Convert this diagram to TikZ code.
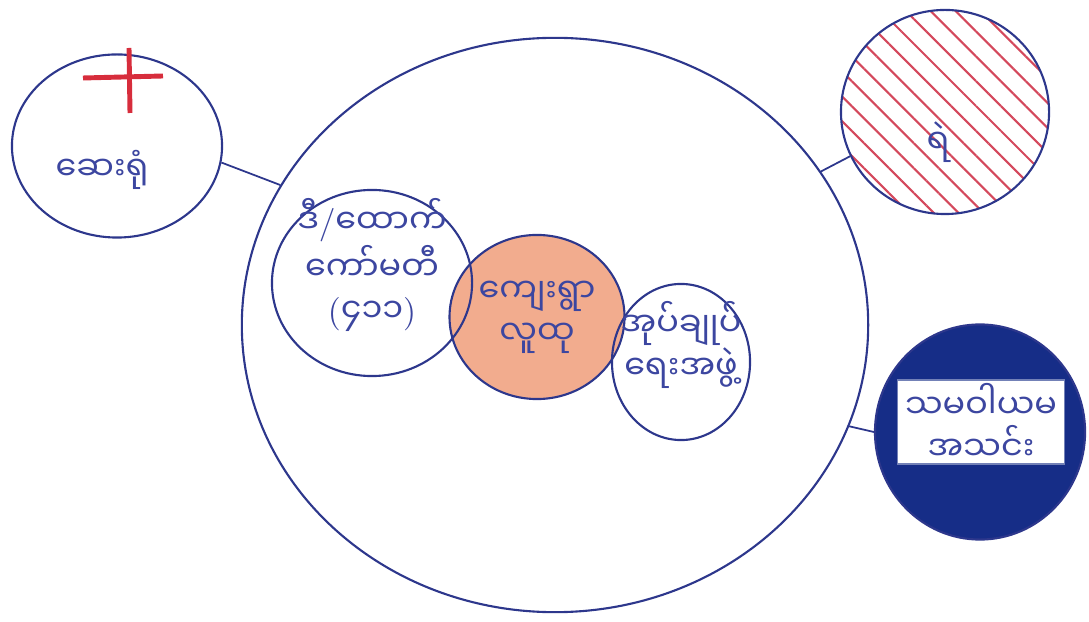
\documentclass[tikz,border=0pt]{standalone}
\usepackage{fontspec}
\usepackage{xcolor}
\usepackage{tikz}
\usetikzlibrary{shapes.geometric,positioning,patterns.meta}
\newfontfamily\mmfont[Script=Myanmar]{Noto Sans Myanmar UI}
\definecolor{penblue}   {RGB}{45,55,140}
\definecolor{inkblue}   {RGB}{60,70,160}
\definecolor{villorange}{RGB}{242,172,142}
\definecolor{crossred}  {RGB}{215,45,60}
\definecolor{hatchred}  {RGB}{212,72,92}
\definecolor{coopblue}  {RGB}{22,45,135}
\newcommand{\lm}[1]{{\rmfamily #1}}
\tikzset{
  ring/.style n args={2}{draw=penblue, line width=0.6pt, ellipse,
                  minimum width=#1, minimum height=#2, inner sep=0pt},
  mmtext/.style ={font=\mmfont\fontsize{9.5}{12}\selectfont, text=inkblue,
                  align=center, inner sep=1pt},
  link/.style   ={draw=penblue, line width=0.5pt},
  cross/.style  ={draw=crossred, line width=1.4pt},
}
\begin{document}
\begin{tikzpicture}[x=0.01cm,y=-0.01cm]
  \useasboundingbox (0,0) rectangle (1089,622);
  %% community circles
  \node[ring={6.26cm}{5.74cm}] (big) at (555,325) {};
  \node[ring={1.5cm}{1.64cm}, fill=villorange, mmtext] (village) at (537,317)
       {ကျေးရွာ\\လူထု};
  \node[ring={2.0cm}{1.86cm}] (comm) at (372,283) {};
  \node[mmtext] (commtext) at (372,265) {ဒီ\lm{/}ထောက်\\ကော်မတီ\\\lm{(}၄၁၁\lm{)}};
  \node[ring={1.38cm}{1.56cm}] (admin) at (681,362) {};
  \node[mmtext] (admintext) at (681,345) {အုပ်ချုပ်\\ရေးအဖွဲ့};
  %% outside services
  \node[ring={2.1cm}{1.83cm}] (hospital) at (117,146) {};
  \draw[cross] (83,78) -- (163,76);
  \draw[cross] (129,48) -- (130,113);
  \node[mmtext] (hosptext) at (102,170) {ဆေးရုံ};
  \node[ring={2.08cm}{2.04cm}, pattern={Lines[angle=-45,distance=5pt,line width=0.6pt]},
        pattern color=hatchred] (police) at (945,112) {};
  \node[mmtext] (policetext) at (938,142) {ရဲ};
  \node[ring={2.1cm}{2.15cm}, fill=coopblue] (coop) at (980,432) {};
  \node[mmtext, fill=white, draw=coopblue!60, minimum width=1.67cm,
        minimum height=0.75cm] (cooptext) at (981,422) {သမဝါယမ\\အသင်း};
  %% links
  \draw[link] (hospital.-9) -- (big.153);
  \draw[link] (big.30) -- (police.205);
  \draw[link] (big.-19) -- (coop.180);
\end{tikzpicture}
\end{document}
